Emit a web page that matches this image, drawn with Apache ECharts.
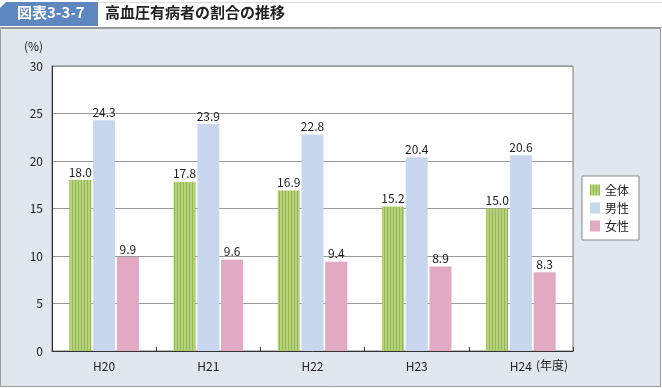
<!DOCTYPE html>
<html><head><meta charset="utf-8">
<script src="https://cdn.jsdelivr.net/npm/echarts@6/dist/echarts.min.js"></script>
<style>html,body{margin:0;padding:0;background:#fff;}#c{width:662px;height:388px;}</style>
</head><body><div id="c"></div>
<script>
const categories = ['H20', 'H21', 'H22', 'H23', 'H24'];
const seriesNames = ['全体', '男性', '女性'];
const totalValues = [18.0, 17.8, 16.9, 15.2, 15.0];
const maleValues = [24.3, 23.9, 22.8, 20.4, 20.6];
const femaleValues = [9.9, 9.6, 9.4, 8.9, 8.3];
const yTicks = [0, 5, 10, 15, 20, 25, 30];

function stripe() {
  const c = document.createElement('canvas');
  c.width = 3; c.height = 4;
  const g = c.getContext('2d');
  g.fillStyle = '#b6d27c'; g.fillRect(0, 0, 3, 4);
  g.fillStyle = '#93b852'; g.fillRect(0, 0, 1, 4);
  return c;
}
const greenFill = { image: stripe(), repeat: 'repeat' };

const chart = echarts.init(document.getElementById('c'), null, { renderer: 'canvas' });
const font = '"Noto Sans CJK JP", "Noto Sans", sans-serif';
const lbl = { show: true, position: 'top', distance: 2, fontSize: 12, color: '#222', fontFamily: font, formatter: p => p.value.toFixed(1) };

chart.setOption({
  animation: false,
  textStyle: { fontFamily: font },
  graphic: [
    { type: 'rect', z: -10, shape: { x: 0.5, y: 28.5, width: 660, height: 358 }, style: { fill: '#e0e7ee', stroke: '#9a9a9a', lineWidth: 1 } },
    { type: 'line', z: -9, shape: { x1: 0, y1: 27.5, x2: 662, y2: 27.5 }, style: { stroke: '#9a9a9a', lineWidth: 1 } },
    { type: 'line', z: -9, shape: { x1: 98, y1: 2.5, x2: 662, y2: 2.5 }, style: { stroke: '#d8dde3', lineWidth: 1 } },
    { type: 'polygon', z: -8, shape: { points: [[6, 2], [98, 2], [98, 26], [0, 26], [0, 8]] }, style: { fill: '#5e86bf' } },
    { type: 'text', left: 17, top: 5, style: { text: '図表3-3-7', fill: '#fff', font: 'bold 15px ' + font } },
    { type: 'text', left: 105, top: 5, style: { text: '高血圧有病者の割合の推移', fill: '#222', font: 'bold 15px ' + font } },
    { type: 'text', left: 24, top: 40, style: { text: '(%)', fill: '#222', font: '12px ' + font } },
    { type: 'text', left: 536, top: 359, style: { text: '(年度)', fill: '#222', font: '12px ' + font } }
  ],
  grid: { left: 52, right: 89, top: 66, bottom: 37, show: true, backgroundColor: '#fff', borderColor: '#777', borderWidth: 1 },
  legend: {
    orient: 'vertical', left: 582, top: 176, width: 56,
    backgroundColor: '#fff', borderColor: '#888', borderWidth: 1,
    padding: [8, 10, 8, 8], itemGap: 6, itemWidth: 10, itemHeight: 11,
    textStyle: { fontSize: 12, color: '#222', fontFamily: font },
    data: seriesNames.map(n => ({ name: n, icon: 'rect' }))
  },
  xAxis: {
    type: 'category', data: categories,
    axisLine: { lineStyle: { color: '#333', width: 1 } },
    axisTick: { show: true, inside: true, length: 4, lineStyle: { color: '#333' } },
    axisLabel: { fontSize: 12, color: '#222', margin: 9, fontFamily: font }
  },
  yAxis: {
    type: 'value', min: yTicks[0], max: yTicks[yTicks.length - 1], interval: 5,
    axisLine: { show: true, lineStyle: { color: '#333', width: 1 } },
    axisTick: { show: false },
    axisLabel: { fontSize: 12, color: '#222', margin: 9, fontFamily: font },
    splitLine: { lineStyle: { color: '#9a9a9a', width: 1 } }
  },
  series: [
    { name: seriesNames[0], type: 'bar', data: totalValues, barWidth: 22, barGap: '8%', itemStyle: { color: greenFill }, label: lbl },
    { name: seriesNames[1], type: 'bar', data: maleValues, barWidth: 22, itemStyle: { color: '#c9d7ee' }, label: lbl },
    { name: seriesNames[2], type: 'bar', data: femaleValues, barWidth: 22, itemStyle: { color: '#e2a9c3' }, label: lbl }
  ]
});
</script></body></html>
